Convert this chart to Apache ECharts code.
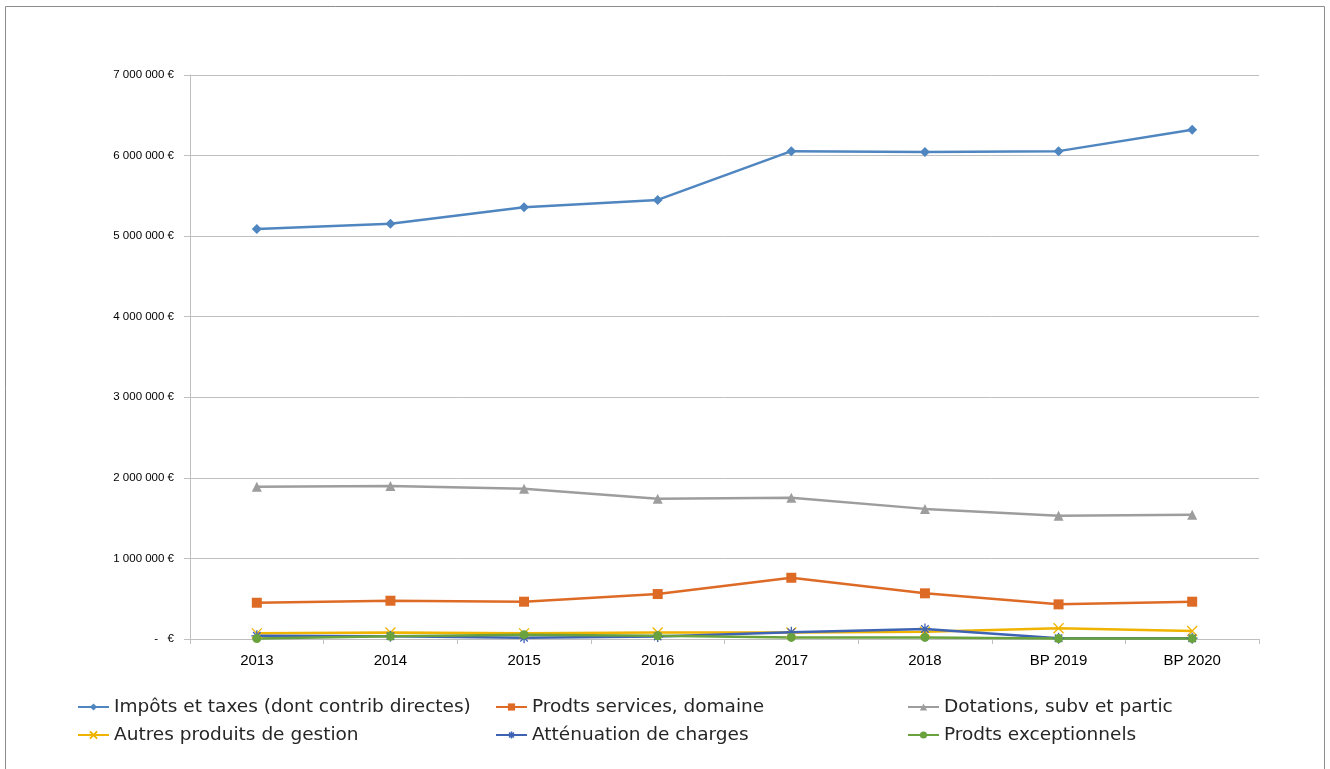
<!DOCTYPE html>
<html>
<head>
<meta charset="utf-8">
<script src="https://cdn.jsdelivr.net/npm/echarts@6/dist/echarts.min.js"></script>
<style>
  html, body { margin: 0; padding: 0; background: #fff; }
  #chart { width: 1330px; height: 769px; }
</style>
</head>
<body>
<div id="chart"></div>
<script>
// Recettes de fonctionnement par chapitre (en euros)
const categories = ['2013', '2014', '2015', '2016', '2017', '2018', 'BP 2019', 'BP 2020'];

const impotsTaxes   = [5090000, 5155000, 5360000, 5450000, 6055000, 6045000, 6055000, 6320000];
const prodtsServices = [450000, 475000, 463000, 558000, 760000, 567000, 430000, 463000];
const dotations     = [1890000, 1900000, 1865000, 1740000, 1752000, 1615000, 1530000, 1542000];
const autresProduits = [70000, 80000, 70000, 80000, 80000, 90000, 133000, 100000];
const attenuation   = [40000, 35000, 15000, 30000, 85000, 124000, 10000, 10000];
const exceptionnels = [5000, 33000, 54000, 41000, 20000, 20000, 5000, 5000];

const yTicks = [0, 1000000, 2000000, 3000000, 4000000, 5000000, 6000000, 7000000];

const names = [
  'Impôts et taxes (dont contrib directes)',
  'Prodts services, domaine',
  'Dotations, subv et partic',
  'Autres produits de gestion',
  'Atténuation de charges',
  'Prodts exceptionnels'
];

const crossPath = 'path://M0,0L10,10M10,0L0,10';
const starPath = 'path://M5,0L5,10M0,5L10,5M1.6,1.6L8.4,8.4M8.4,1.6L1.6,8.4';

function euro(v) {
  if (v === 0) return '-   €';
  return String(Math.round(v)).replace(/\B(?=(\d{3})+(?!\d))/g, ' ') + ' €';
}

function lineSeries(name, data, color, symbol, size, strokeOnly) {
  return {
    name: name,
    type: 'line',
    data: data,
    symbol: symbol,
    symbolSize: size,
    showAllSymbol: true,
    lineStyle: { color: color, width: 2.5 },
    itemStyle: strokeOnly
      ? { color: 'rgba(0,0,0,0)', borderColor: color, borderWidth: 1.3 }
      : { color: color, borderWidth: 0 },
    emphasis: { disabled: true },
    animation: false
  };
}

const legendText = { fontFamily: 'DejaVu Sans', fontSize: 18.5, lineHeight: 20, color: '#262626' };
function legendCol(left, data) {
  return {
    data: data,
    left: left,
    top: 697,
    padding: 0,
    orient: 'vertical',
    itemWidth: 31,
    itemHeight: 9,
    itemGap: 8,
    textStyle: legendText,
    selectedMode: false
  };
}

const chart = echarts.init(document.getElementById('chart'), null, { renderer: 'canvas' });
chart.setOption({
  backgroundColor: '#fff',
  animation: false,
  graphic: [{
    type: 'rect',
    shape: { x: 5.5, y: 6.5, width: 1319, height: 800 },
    style: { fill: 'none', stroke: '#8c8c8c', lineWidth: 1 },
    silent: true,
    z: -1
  }],
  grid: { left: 190, right: 71, top: 75, bottom: 130, containLabel: false },
  legend: [
    legendCol(77, [names[0], names[3]]),
    legendCol(495, [names[1], { name: names[4], itemStyle: { borderWidth: 1.6 } }]),
    legendCol(907, [names[2], names[5]])
  ],
  xAxis: {
    type: 'category',
    data: categories,
    boundaryGap: true,
    axisLine: { lineStyle: { color: '#bfbfbf', width: 1 } },
    axisTick: { show: true, length: 5, alignWithLabel: false, lineStyle: { color: '#bfbfbf' } },
    axisLabel: { fontFamily: 'Liberation Sans', fontSize: 15, color: '#000', margin: 14 }
  },
  yAxis: {
    type: 'value',
    min: yTicks[0],
    max: yTicks[yTicks.length - 1],
    interval: yTicks[1] - yTicks[0],
    axisLine: { show: true, lineStyle: { color: '#bfbfbf', width: 1 } },
    axisTick: { show: true, length: 6, lineStyle: { color: '#bfbfbf' } },
    splitLine: { lineStyle: { color: '#bfbfbf', width: 1 } },
    axisLabel: {
      fontFamily: 'Liberation Sans', fontSize: 11.5, color: '#000', margin: 16,
      formatter: euro
    }
  },
  series: [
    lineSeries(names[0], impotsTaxes, '#4f86c0', 'diamond', 10, false),
    lineSeries(names[1], prodtsServices, '#dd6b26', 'rect', 10, false),
    lineSeries(names[2], dotations, '#9d9d9d', 'triangle', 10, false),
    lineSeries(names[3], autresProduits, '#efb300', crossPath, 10, true),
    lineSeries(names[4], attenuation, '#3e63b3', starPath, 11, true),
    lineSeries(names[5], exceptionnels, '#6aa33e', 'circle', 9, false)
  ]
});
</script>
</body>
</html>
